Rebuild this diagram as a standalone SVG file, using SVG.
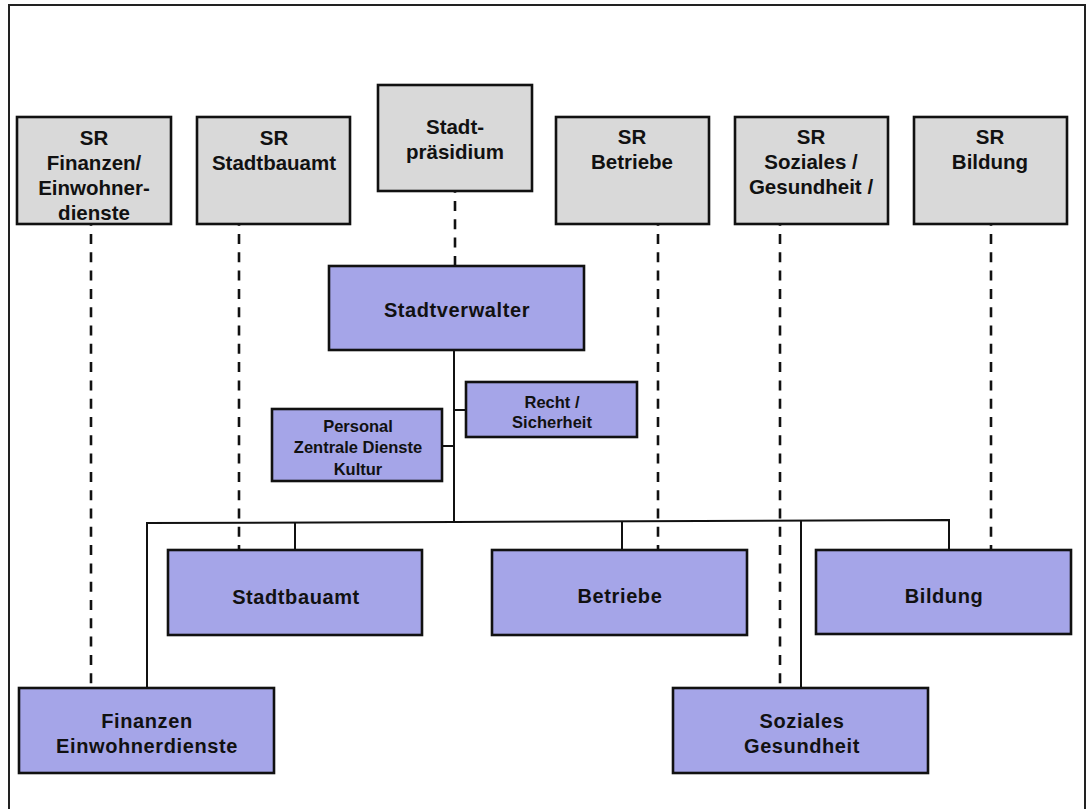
<svg xmlns="http://www.w3.org/2000/svg" width="1086" height="809" viewBox="0 0 1086 809">
<style>
.g{fill:#d9d9d9;stroke:#111;stroke-width:2.6}
.b{fill:#a5a5e8;stroke:#111;stroke-width:2.6}
text{font-family:"Liberation Sans",Arial,sans-serif;font-weight:bold;fill:#111;text-anchor:middle}
.t1{font-size:20.5px}
.t2{font-size:20px;letter-spacing:0.6px}
.t3{font-size:16.5px}
.d{stroke:#111;stroke-width:2.6;stroke-dasharray:10 8.3;stroke-dashoffset:9.3;fill:none}
.s{stroke:#111;stroke-width:2;fill:none}
</style>
<rect x="0" y="0" width="1086" height="809" fill="#fff"/>
<path d="M9,809 V5 H1085 V809" fill="none" stroke="#222" stroke-width="2"/>
<g id="connectors">
<line class="d" x1="91" y1="225" x2="91" y2="688"/>
<line class="d" x1="239" y1="225" x2="239" y2="550"/>
<line class="d" x1="455" y1="192" x2="455" y2="266"/>
<line class="d" x1="658" y1="225" x2="658" y2="550"/>
<line class="d" x1="780" y1="225" x2="780" y2="688"/>
<line class="d" x1="991" y1="225" x2="991" y2="550"/>
<line class="s" x1="454" y1="350" x2="454" y2="522"/>
<line class="s" x1="454" y1="410" x2="466" y2="410"/>
<line class="s" x1="442" y1="446" x2="454" y2="446"/>
<polyline class="s" points="147,688 147,523 454,522 949,520 949,550"/>
<line class="s" x1="295" y1="523" x2="295" y2="550"/>
<line class="s" x1="622" y1="521" x2="622" y2="550"/>
<line class="s" x1="801" y1="520" x2="801" y2="688"/>
</g>
<g id="sr-finanzen"><rect class="g" x="17" y="117" width="154" height="107"/>
<text class="t1" x="94" y="145">SR</text><text class="t1" x="94" y="170">Finanzen/</text><text class="t1" x="94" y="195">Einwohner-</text><text class="t1" x="94" y="220">dienste</text></g>
<g id="sr-stadtbauamt"><rect class="g" x="197" y="117" width="153" height="107"/>
<text class="t1" x="274" y="145">SR</text><text class="t1" x="274" y="170">Stadtbauamt</text></g>
<g id="stadtpraesidium"><rect class="g" x="378" y="85" width="154" height="106"/>
<text class="t1" x="455" y="134">Stadt-</text><text class="t1" x="455" y="159">präsidium</text></g>
<g id="sr-betriebe"><rect class="g" x="556" y="117" width="153" height="107"/>
<text class="t1" x="632" y="144">SR</text><text class="t1" x="632" y="169">Betriebe</text></g>
<g id="sr-soziales"><rect class="g" x="735" y="117" width="153" height="107"/>
<text class="t1" x="811" y="144">SR</text><text class="t1" x="811" y="169">Soziales /</text><text class="t1" x="811" y="194">Gesundheit /</text></g>
<g id="sr-bildung"><rect class="g" x="914" y="117" width="153" height="107"/>
<text class="t1" x="990" y="144">SR</text><text class="t1" x="990" y="169">Bildung</text></g>
<g id="stadtverwalter"><rect class="b" x="329" y="266" width="255" height="84"/>
<text class="t2" x="457" y="317">Stadtverwalter</text></g>
<g id="recht"><rect class="b" x="466" y="382" width="171" height="55"/>
<text class="t3" x="552" y="408">Recht /</text><text class="t3" x="552" y="428">Sicherheit</text></g>
<g id="personal"><rect class="b" x="272" y="409" width="170" height="72"/>
<text class="t3" x="358" y="432">Personal</text><text class="t3" x="358" y="453">Zentrale Dienste</text><text class="t3" x="358" y="475">Kultur</text></g>
<g id="stadtbauamt"><rect class="b" x="168" y="550" width="254" height="85"/>
<text class="t2" x="296" y="604">Stadtbauamt</text></g>
<g id="betriebe"><rect class="b" x="492" y="550" width="255" height="85"/>
<text class="t2" x="620" y="603">Betriebe</text></g>
<g id="bildung"><rect class="b" x="816" y="550" width="255" height="84"/>
<text class="t2" x="944" y="603">Bildung</text></g>
<g id="finanzen"><rect class="b" x="19" y="688" width="255" height="85"/>
<text class="t2" x="147" y="728">Finanzen</text><text class="t2" x="147" y="753">Einwohnerdienste</text></g>
<g id="soziales"><rect class="b" x="673" y="688" width="255" height="85"/>
<text class="t2" x="802" y="728">Soziales</text><text class="t2" x="802" y="753">Gesundheit</text></g>
</svg>
